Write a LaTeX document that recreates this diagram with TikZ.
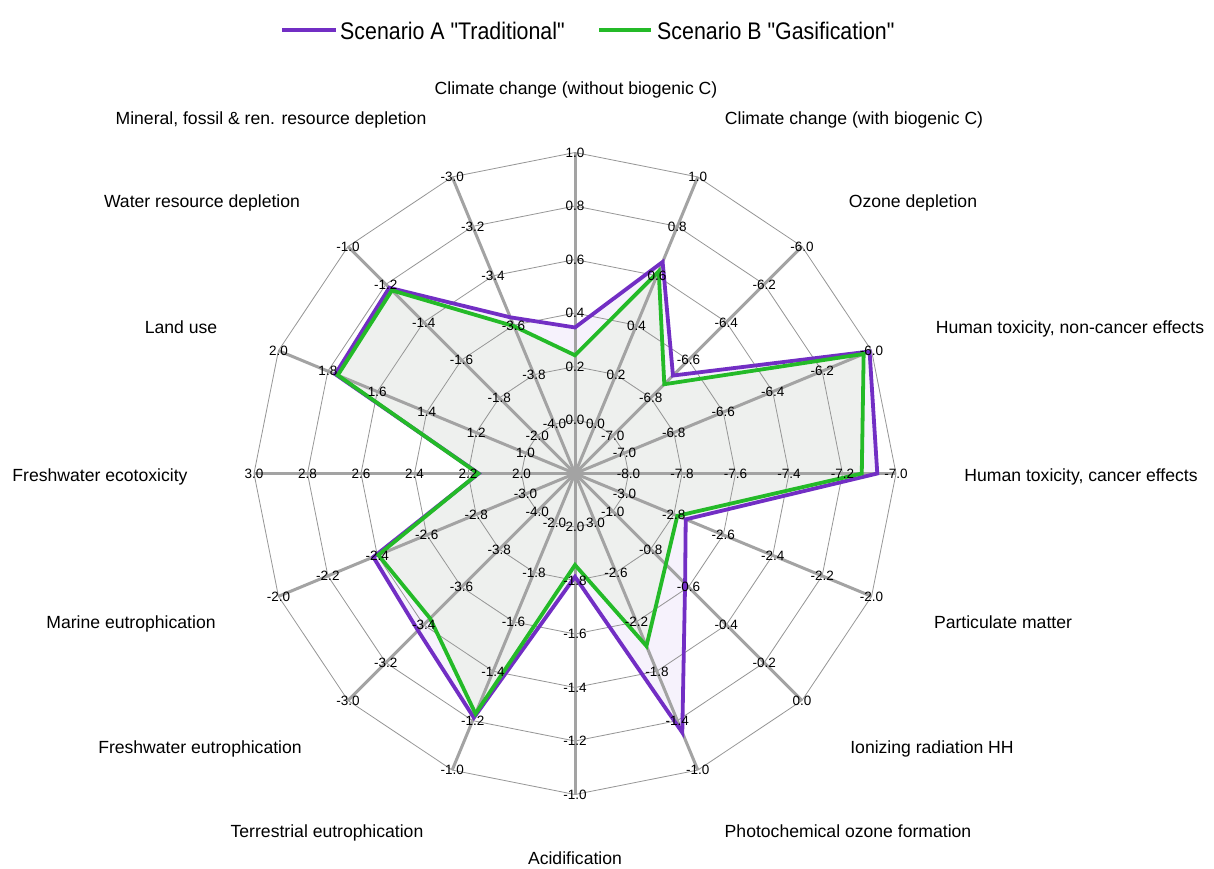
\documentclass[tikz,border=0pt]{standalone}
\usepackage{fontspec}
\setmainfont{Liberation Sans}
\newfontfamily\legfont[FakeStretch=0.89]{Liberation Sans}
\usetikzlibrary{calc}
\definecolor{purpA}{RGB}{114,46,196}
\definecolor{greenB}{RGB}{36,186,40}
\definecolor{fillB}{RGB}{238,240,238}
\definecolor{fillA}{RGB}{246,242,252}
\definecolor{gridgray}{RGB}{150,150,150}
\definecolor{axisgray}{RGB}{163,163,163}
\newcommand\dq{\symbol{34}}
\tikzset{
  ring/.style={draw=gridgray, line width=0.8pt},
  axisline/.style={draw=axisgray, line width=3pt},
  serA/.style={draw=purpA, line width=3.8pt},
  serB/.style={draw=greenB, line width=3.8pt},
  ticklab/.style={font=\fontsize{13.5}{16}\selectfont, inner sep=0pt, text height=9.7pt, text depth=0pt},
  catlab/.style={font=\fontsize{17.6}{21}\selectfont, inner sep=0pt, text height=12.6pt, text depth=0pt},
  leglab/.style={font=\legfont\fontsize{24}{28}\selectfont, inner sep=0pt, text height=17.2pt, text depth=0pt, anchor=west},
  legline/.style={line width=4.5pt},
}
\newcommand\axticks[2]{%
  \foreach \t [count=\k] in {#2}{%
    \node[ticklab] (T#1-\k) at ($(O)+({90-22.5*#1}:{\k*53.5})$) {\t};
  }%
}
\begin{document}
\begin{tikzpicture}[x=1pt,y=1pt]
\useasboundingbox (0,0) rectangle (1214,-868);
\fill[white] (0,0) rectangle (1214,-868);
\coordinate (O) at (575,-473.5);
\def\Alist{2.73,4.28,2.59,5.96,5.65,2.24,2.91,5.24,1.93,4.94,4.15,4.08,1.80,4.85,4.91,3.16}
\def\Blist{2.21,4.09,2.36,5.84,5.36,2.07,2.40,3.49,1.71,4.86,3.83,3.98,1.81,4.80,4.84,2.98}
\foreach \v [count=\i from 0] in \Alist {\coordinate (A\i) at ($(O)+({90-22.5*\i}:{\v*53.5})$);}
\foreach \v [count=\i from 0] in \Blist {\coordinate (B\i) at ($(O)+({90-22.5*\i}:{\v*53.5})$);}
% fills
\fill[fillA] (A0) \foreach \i in {1,...,15}{-- (A\i)} -- cycle;
\fill[fillB] (B0) \foreach \i in {1,...,15}{-- (B\i)} -- cycle;
% rings
\foreach \k in {1,...,6}{
  \draw[ring] ($(O)+(90:{\k*53.5})$) \foreach \i in {1,...,15}{-- ($(O)+({90-22.5*\i}:{\k*53.5})$)} -- cycle;
}
% axes
\foreach \i in {0,...,15}{
  \coordinate (E\i) at ($(O)+({90-22.5*\i}:321)$);
  \draw[axisline] (O) -- (E\i);
}
% series
\draw[serA] (A0) \foreach \i in {1,...,15}{-- (A\i)} -- cycle;
\draw[serB] (B0) \foreach \i in {1,...,15}{-- (B\i)} -- cycle;
% tick labels
\axticks{0}{0.0,0.2,0.4,0.6,0.8,1.0}
\axticks{1}{0.0,0.2,0.4,0.6,0.8,1.0}
\axticks{2}{-7.0,-6.8,-6.6,-6.4,-6.2,-6.0}
\axticks{3}{-7.0,-6.8,-6.6,-6.4,-6.2,-6.0}
\axticks{4}{-8.0,-7.8,-7.6,-7.4,-7.2,-7.0}
\axticks{5}{-3.0,-2.8,-2.6,-2.4,-2.2,-2.0}
\axticks{6}{-1.0,-0.8,-0.6,-0.4,-0.2,0.0}
\axticks{7}{3.0,-2.6,-2.2,-1.8,-1.4,-1.0}
\axticks{8}{2.0,-1.8,-1.6,-1.4,-1.2,-1.0}
\axticks{9}{-2.0,-1.8,-1.6,-1.4,-1.2,-1.0}
\axticks{10}{-4.0,-3.8,-3.6,-3.4,-3.2,-3.0}
\axticks{11}{-3.0,-2.8,-2.6,-2.4,-2.2,-2.0}
\axticks{12}{2.0,2.2,2.4,2.6,2.8,3.0}
\axticks{13}{1.0,1.2,1.4,1.6,1.8,2.0}
\axticks{14}{-2.0,-1.8,-1.6,-1.4,-1.2,-1.0}
\axticks{15}{-4.0,-3.8,-3.6,-3.4,-3.2,-3.0}
% category labels
\node[catlab] (c0) at (576,-88) {Climate change (without biogenic C)};
\node[catlab] (c1) at (854,-118) {Climate change (with biogenic C)};
\node[catlab] (c2) at (913,-201) {Ozone depletion};
\node[catlab] (c3) at (1070,-327) {Human toxicity, non-cancer effects};
\node[catlab] (c4) at (1081,-475) {Human toxicity, cancer effects};
\node[catlab] (c5) at (1003,-622) {Particulate matter};
\node[catlab] (c6) at (932,-747) {Ionizing radiation HH};
\node[catlab] (c7) at (848,-831) {Photochemical ozone formation};
\node[catlab] (c8) at (575,-858) {Acidification};
\node[catlab] (c9) at (327,-831) {Terrestrial eutrophication};
\node[catlab] (c10) at (200,-747) {Freshwater eutrophication};
\node[catlab] (c11) at (131,-622) {Marine eutrophication};
\node[catlab] (c12) at (100,-475) {Freshwater ecotoxicity};
\node[catlab] (c13) at (181,-327) {Land use};
\node[catlab] (c14) at (202,-201) {Water resource depletion};
\node[catlab] (c15) at (271,-118) {Mineral, fossil \& ren. resource depletion};
% legend
\coordinate (la1) at (282,-30);
\coordinate (la2) at (336,-30);
\coordinate (lb1) at (599,-30);
\coordinate (lb2) at (651,-30);
\draw[legline, purpA] (la1) -- (la2);
\draw[legline, greenB] (lb1) -- (lb2);
\node[leglab] (legA) at (340,-31) {Scenario A \dq Traditional\dq};
\node[leglab] (legB) at (657,-31) {Scenario B \dq Gasification\dq};
\end{tikzpicture}
\end{document}
